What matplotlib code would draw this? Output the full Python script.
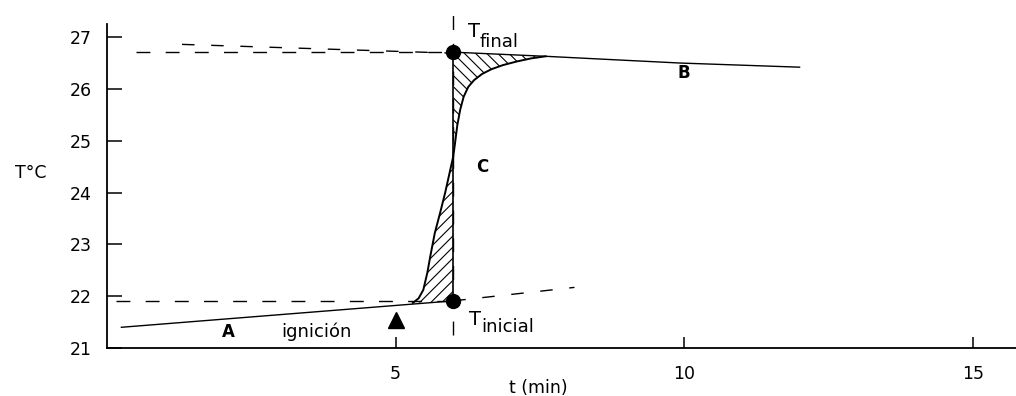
import matplotlib.pyplot as plt

# temperature-time record of a combustion run
a_t = [0.25, 6.0]
a_T = [21.40, 21.91]
a_ext_t = [6.0, 8.1]
a_ext_T = [21.91, 22.17]

b_t = [6.0, 7.6, 8.85, 9.93, 12.0]
b_T = [26.71, 26.63, 26.56, 26.50, 26.42]
b_ext_t = [1.3, 6.0]
b_ext_T = [26.86, 26.69]

# rise after ignition
c_t = [5.30, 5.40, 5.48, 5.55, 5.60, 5.68, 5.77, 5.86, 5.92, 5.97, 6.00,
       6.03, 6.07, 6.12, 6.18, 6.26, 6.36, 6.50, 6.66, 6.86, 7.10, 7.35, 7.60]
c_T = [21.87, 21.96, 22.12, 22.45, 22.76, 23.22, 23.60, 24.00, 24.30, 24.55, 24.70,
       24.95, 25.30, 25.60, 25.85, 26.04, 26.17, 26.29, 26.38, 26.46, 26.53, 26.59, 26.63]

t_cut = 6.0
T_inicial = 21.91
T_final = 26.71
t_ign = 5.0
T_ign = 21.54

xticks = [5, 10, 15]
yticks = [21, 22, 23, 24, 25, 26, 27]

plt.rcParams['hatch.linewidth'] = 0.8

fig = plt.figure(figsize=(10.16, 3.96), dpi=100)
ax = fig.add_axes([0.1053, 0.1212, 0.8947, 0.857])
ax.set_xlim(0, 15.75)
ax.set_ylim(21, 27.55)

lw = 1.0
# dashed reference lines
ax.plot([0.5, t_cut], [T_final, T_final], 'k', lw=lw, dashes=(10, 11))
ax.plot(b_ext_t, b_ext_T, 'k', lw=lw, dashes=(9, 12))
ax.plot([0.15, t_cut], [T_inicial, T_inicial], 'k', lw=lw, dashes=(10, 11))
ax.plot(a_ext_t, a_ext_T, 'k', lw=lw, dashes=(9, 12))
ax.plot([t_cut, t_cut], [21.25, 27.46], 'k', lw=lw, dashes=(10, 10))

# solid curve segments
ax.plot(a_t, a_T, 'k', lw=lw)
ax.plot(b_t, b_T, 'k', lw=lw)
ax.plot(c_t, c_T, 'k', lw=1.4)
ax.plot([t_cut, t_cut], [T_inicial, T_final], 'k', lw=1.2)

# hatched areas either side of t = 6
i_cut = c_t.index(t_cut)
low_x = [t_cut] + c_t[:i_cut + 1]
low_y = [T_inicial] + c_T[:i_cut + 1]
ax.fill(low_x, low_y, facecolor='none', edgecolor='k', hatch='///', lw=0)
up_x = c_t[i_cut:] + b_t[:2][::-1]
up_y = c_T[i_cut:] + b_T[:2][::-1]
ax.fill(up_x, up_y, facecolor='none', edgecolor='k', hatch='\\\\\\', lw=0)

ax.plot([t_cut, t_cut], [T_inicial, T_final], 'o', color='k', ms=10)
ax.plot(t_ign, T_ign, '^', color='k', ms=12)

ax.text(2.1, 21.3, 'A', fontsize=12, fontweight='bold', ha='center', va='center')
ax.text(10.0, 26.3, 'B', fontsize=12, fontweight='bold', ha='center', va='center')
ax.text(6.5, 24.49, 'C', fontsize=12, fontweight='bold', ha='center', va='center')
ax.text(3.02, 21.31, 'ignición', fontsize=13, ha='left', va='center')

ax.text(6.25, 27.0, 'T', fontsize=14, ha='left', va='baseline')
ax.text(6.46, 26.81, 'final', fontsize=13, ha='left', va='baseline')
ax.text(6.28, 21.44, 'T', fontsize=14, ha='left', va='baseline')
ax.text(6.49, 21.31, 'inicial', fontsize=13, ha='left', va='baseline')

for s in ['top', 'right']:
    ax.spines[s].set_visible(False)
ax.spines['left'].set_bounds(21, 27.25)
ax.spines['left'].set_linewidth(1.3)
ax.spines['bottom'].set_linewidth(1.3)

ax.set_xticks(xticks)
ax.set_yticks(yticks)
ax.tick_params(axis='y', direction='in', length=11, width=1.1, pad=11, labelsize=12.5)
ax.tick_params(axis='x', direction='in', length=8, width=1.1, pad=12, labelsize=12.5)

ax.set_xlabel('t (min)', fontsize=12.5)
ax.xaxis.set_label_coords(0.474, -0.09)
fig.text(31 / 1016, 1 - 173 / 396, 'T°C', fontsize=12.5, ha='center', va='center')

fig.savefig('out.png', dpi=100)
